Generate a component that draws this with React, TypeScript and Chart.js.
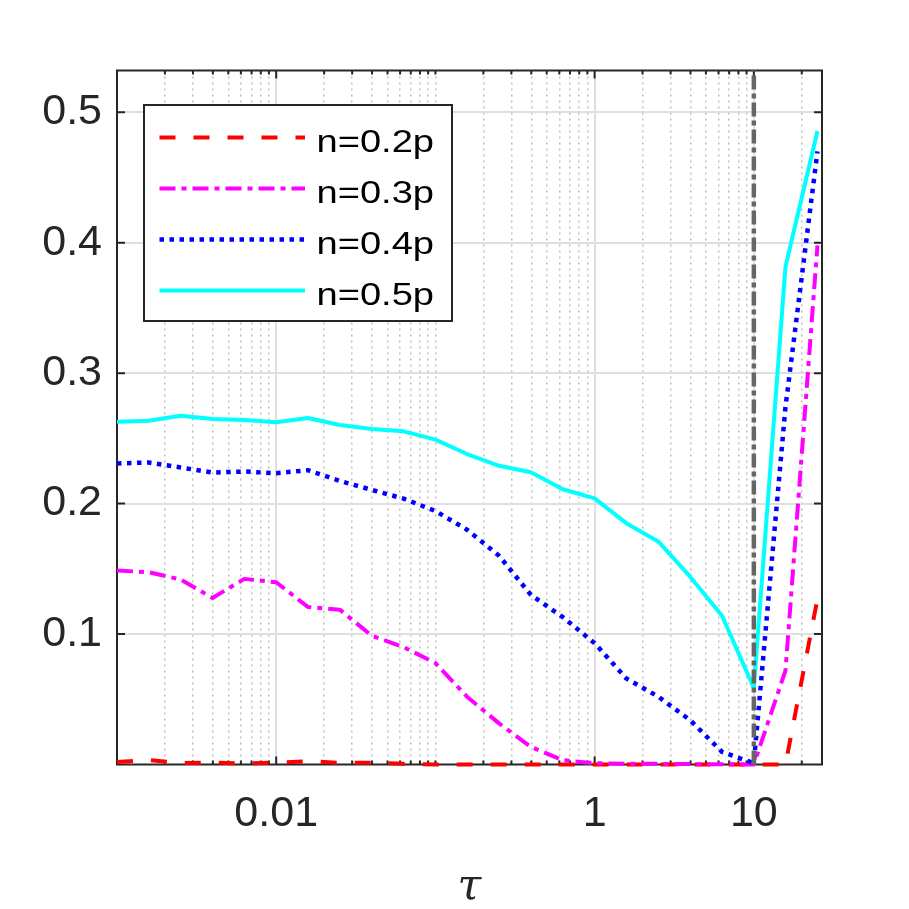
import { useEffect, useRef } from 'react';
import { Chart, registerables } from 'chart.js';

Chart.register(...registerables);

// tau sample points (log spaced)
const tau = [
  0.001, 0.00158, 0.00251, 0.00398, 0.00631, 0.01, 0.0158, 0.0251, 0.0398, 0.0631,
  0.1, 0.158, 0.251, 0.398, 0.631, 1, 1.58, 2.51, 3.98, 6.31, 10, 15.8, 25.1,
];

const n02 = [
  0.002, 0.0035, 0.001, 0.0015, 0.0008, 0.0014, 0.0025, 0.0013, 0.0013, 0.0005,
  0, 0, 0, 0, 0, 0, 0, 0, 0, 0, 0, 0, 0.127,
];
const n03 = [
  0.1487, 0.1474, 0.1418, 0.1277, 0.1423, 0.1397, 0.1208, 0.1187, 0.0987, 0.09,
  0.0777, 0.052, 0.0315, 0.0135, 0.0033, 0.001, 0.0005, 0.0005, 0.0003, 0.0002, 0, 0.072, 0.398,
];
const n04 = [
  0.2308, 0.2315, 0.2277, 0.2238, 0.2246, 0.2233, 0.2256, 0.2174, 0.2105, 0.2038,
  0.1943, 0.18, 0.16, 0.13, 0.113, 0.093, 0.066, 0.052, 0.034, 0.0097, 0.001, 0.274, 0.47,
];
const n05 = [
  0.2628, 0.2635, 0.2674, 0.2648, 0.2641, 0.2623, 0.2656, 0.2602, 0.2572, 0.2554,
  0.249, 0.238, 0.229, 0.224, 0.211, 0.204, 0.185, 0.171, 0.144, 0.114, 0.0587, 0.3815, 0.4856,
];

const seriesLabels = ['n=0.2p', 'n=0.3p', 'n=0.4p', 'n=0.5p'];

const xMajorTicks = [0.01, 1, 10];
const xTickLabels = ['0.01', '1', '10'];
const xDecades = [0.001, 0.01, 0.1, 1, 10];
const yTicks = [0.1, 0.2, 0.3, 0.4, 0.5];
const yTickLabels = ['0.1', '0.2', '0.3', '0.4', '0.5'];

const xMin = 0.001;
const xMax = 26.8;
const yMin = 0;
const yMax = 0.532;
const tauMarker = 10;

// every log position 1..9 x decade gets a (minor) grid line
const allXTicks = xDecades
  .flatMap((d) => [1, 2, 3, 4, 5, 6, 7, 8, 9].map((m) => Number((d * m).toPrecision(3))))
  .filter((v) => v <= xMax);

const isMajorX = (v: number) => xMajorTicks.some((t) => Math.abs(t - v) < t * 1e-6);

const AXIS_COLOR = '#262626';
const SANS = "'Liberation Sans', Arial, sans-serif";

const axesBoxPlugin = {
  id: 'axesBox',
  beforeDatasetsDraw(chart: any) {
    const { ctx, chartArea: a, scales } = chart;
    ctx.save();
    ctx.strokeStyle = AXIS_COLOR;
    ctx.lineWidth = 2;
    ctx.beginPath();
    for (const v of allXTicks) {
      if (v <= xMin || v >= xMax) continue;
      const px = scales.x.getPixelForValue(v);
      const len = isMajorX(v) ? 8 : 4;
      ctx.moveTo(px, a.bottom);
      ctx.lineTo(px, a.bottom - len);
      ctx.moveTo(px, a.top);
      ctx.lineTo(px, a.top + len);
    }
    for (const v of yTicks) {
      const py = scales.y.getPixelForValue(v);
      ctx.moveTo(a.left, py);
      ctx.lineTo(a.left + 8, py);
      ctx.moveTo(a.right, py);
      ctx.lineTo(a.right - 8, py);
    }
    ctx.stroke();
    ctx.strokeRect(a.left, a.top, a.right - a.left, a.bottom - a.top);
    ctx.restore();
  },
};

// boxed legend in the upper left of the axes, text a little stretched like the original
const boxLegendPlugin = {
  id: 'boxLegend',
  afterDraw(chart: any) {
    const { ctx, chartArea: a } = chart;
    const left = a.left + 27;
    const top = a.top + 34.5;
    const width = 308;
    const height = 216;
    ctx.save();
    ctx.fillStyle = '#ffffff';
    ctx.fillRect(left, top, width, height);
    ctx.strokeStyle = AXIS_COLOR;
    ctx.lineWidth = 2;
    ctx.strokeRect(left, top, width, height);
    seriesLabels.forEach((label, i) => {
      const ds = chart.data.datasets.find((d: any) => d.label === label);
      if (!ds) return;
      const y = top + 32.5 + i * 51;
      ctx.beginPath();
      ctx.setLineDash(ds.borderDash || []);
      ctx.strokeStyle = ds.borderColor;
      ctx.lineWidth = ds.borderWidth;
      ctx.lineCap = 'butt';
      ctx.moveTo(left + 15.5, y);
      ctx.lineTo(left + 161, y);
      ctx.stroke();
      ctx.setLineDash([]);
      ctx.save();
      ctx.translate(left + 172.5, y + 14.5);
      ctx.scale(1.19, 1);
      ctx.fillStyle = '#000000';
      ctx.font = `32px ${SANS}`;
      ctx.textAlign = 'left';
      ctx.textBaseline = 'alphabetic';
      ctx.fillText(label, 0, 0);
      ctx.restore();
    });
    ctx.restore();
  },
};

const toPoints = (ys: number[]) => tau.map((x, i) => ({ x, y: ys[i] }));

export default function App() {
  const canvasRef = useRef<HTMLCanvasElement>(null);
  const chartRef = useRef<Chart | null>(null);

  useEffect(() => {
    if (!canvasRef.current) return;
    if (chartRef.current) chartRef.current.destroy();

    const common = {
      pointRadius: 0,
      pointHoverRadius: 0,
      fill: false,
      tension: 0,
      clip: 8,
      borderWidth: 4,
      borderCapStyle: 'butt' as const,
      borderJoinStyle: 'round' as const,
    };

    chartRef.current = new Chart(canvasRef.current, {
      type: 'line',
      data: {
        datasets: [
          {
            ...common,
            label: 'tau marker',
            data: [
              { x: tauMarker, y: yMin },
              { x: tauMarker, y: yMax },
            ],
            borderColor: '#666666',
            borderWidth: 4.5,
            borderDash: [14, 4, 5, 4],
            order: 0,
          },
          { ...common, label: seriesLabels[3], data: toPoints(n05), borderColor: '#00ffff', order: 1 },
          {
            ...common,
            label: seriesLabels[2],
            data: toPoints(n04),
            borderColor: '#0000ff',
            borderWidth: 4.5,
            borderDash: [4.5, 5.5],
            order: 2,
          },
          {
            ...common,
            label: seriesLabels[1],
            data: toPoints(n03),
            borderColor: '#ff00ff',
            borderDash: [16, 6, 5, 6],
            order: 3,
          },
          {
            ...common,
            label: seriesLabels[0],
            data: toPoints(n02),
            borderColor: '#ff0000',
            borderDash: [16, 18],
            order: 4,
          },
        ],
      },
      options: {
        animation: false,
        responsive: true,
        maintainAspectRatio: false,
        events: [],
        layout: { padding: { top: 70.5, right: 87, left: 0, bottom: 0 } },
        plugins: {
          legend: { display: false },
          tooltip: { enabled: false },
        },
        scales: {
          x: {
            type: 'logarithmic',
            min: xMin,
            max: xMax,
            afterBuildTicks: (s: any) => {
              s.ticks = allXTicks.map((v) => ({ value: v }));
            },
            afterFit: (s: any) => {
              s.height = 144.5;
            },
            ticks: {
              autoSkip: false,
              maxRotation: 0,
              minRotation: 0,
              padding: 24,
              color: AXIS_COLOR,
              font: { family: SANS, size: 43 },
              callback: (v: any) => {
                const i = xMajorTicks.findIndex((t) => Math.abs(t - Number(v)) < t * 1e-6);
                return i >= 0 ? xTickLabels[i] : '';
              },
            },
            grid: {
              drawTicks: false,
              color: (c: any) => (c.tick && isMajorX(c.tick.value) ? '#dfdfdf' : '#bdbdbd'),
              lineWidth: (c: any) => (c.tick && isMajorX(c.tick.value) ? 2 : 1.5),
            },
            border: {
              display: false,
              dash: (c: any) => (c.tick && isMajorX(c.tick.value) ? [] : [2, 4]),
            },
            title: {
              display: true,
              text: 'τ',
              color: AXIS_COLOR,
              font: { family: "'DejaVu Serif', serif", style: 'italic', size: 43, lineHeight: 1 },
              padding: { top: 0, bottom: 0 },
            },
          },
          y: {
            type: 'linear',
            min: yMin,
            max: yMax,
            afterBuildTicks: (s: any) => {
              s.ticks = yTicks.map((v) => ({ value: v }));
            },
            afterFit: (s: any) => {
              s.width = 117;
            },
            ticks: {
              padding: 15,
              color: AXIS_COLOR,
              font: { family: SANS, size: 43 },
              callback: (v: any) => {
                const i = yTicks.findIndex((t) => Math.abs(t - Number(v)) < 1e-9);
                return i >= 0 ? yTickLabels[i] : '';
              },
            },
            grid: { drawTicks: false, color: '#dfdfdf', lineWidth: 2 },
            border: { display: false },
          },
        },
      },
      plugins: [axesBoxPlugin, boxLegendPlugin],
    } as any);

    return () => {
      if (chartRef.current) {
        chartRef.current.destroy();
        chartRef.current = null;
      }
    };
  }, []);

  return (
    <div style={{ position: 'fixed', left: 0, top: 0, width: 909, height: 909, background: '#ffffff' }}>
      <canvas ref={canvasRef} />
    </div>
  );
}
